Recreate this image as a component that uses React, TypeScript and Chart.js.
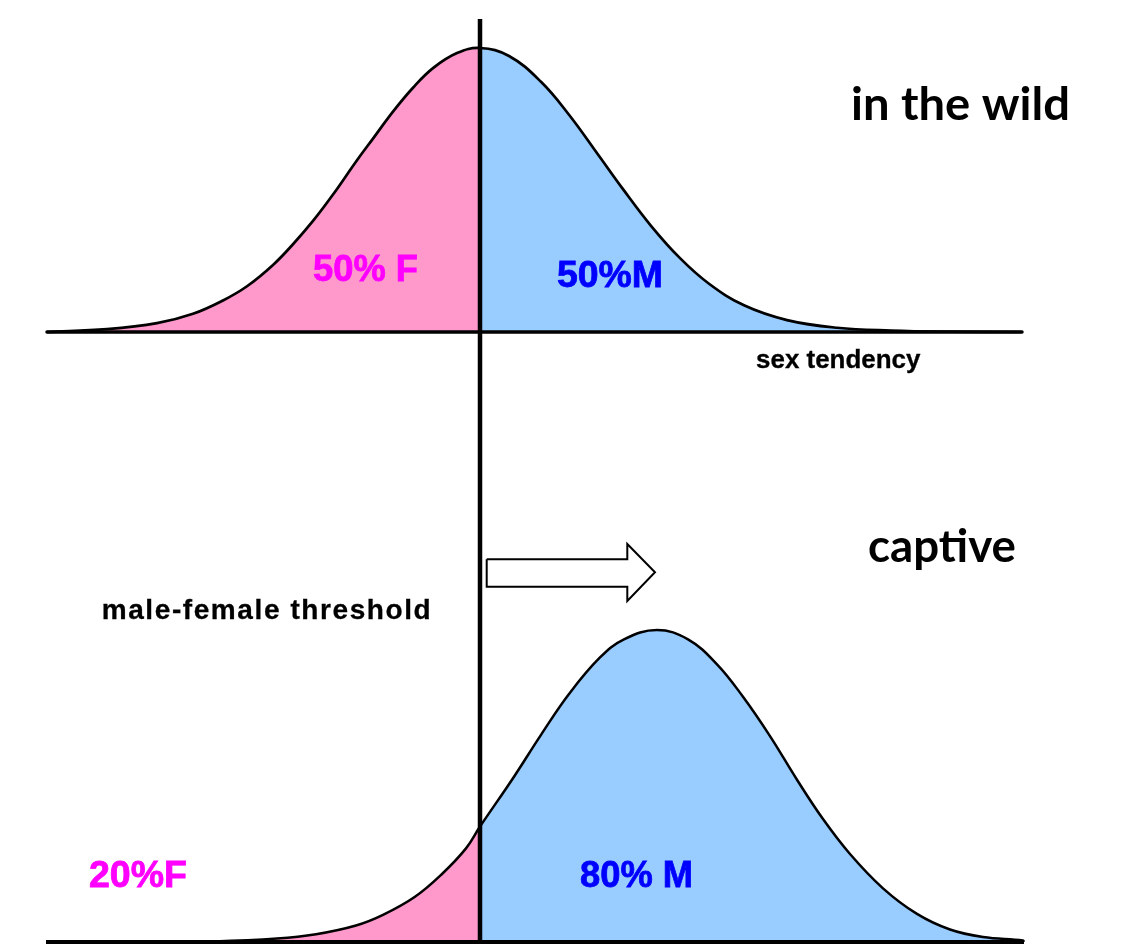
import React, { useEffect, useRef } from "react";
import { Chart, registerables } from "chart.js";

Chart.register(...registerables);

// sex tendency (threshold at 0) and relative frequency (peak = 1)
const wildX = [-4.33, -3.73, -3.23, -2.87, -2.57, -2.33, -2.07, -1.87, -1.67, -1.47, -1.23, -1.07, -0.87, -0.67, -0.47, -0.23, 0, 0.29, 0.61, 0.89, 1.18, 1.43, 1.71, 2.0, 2.29, 2.64, 3.07, 3.57, 4.11, 4.7, 5.41];
const wildY = [0.0, 0.01, 0.031, 0.064, 0.111, 0.161, 0.236, 0.309, 0.391, 0.484, 0.605, 0.681, 0.776, 0.86, 0.929, 0.982, 1.0, 0.972, 0.881, 0.765, 0.625, 0.503, 0.374, 0.26, 0.17, 0.094, 0.042, 0.015, 0.005, 0.001, 0.0];

const captiveX = [-4.34, -3.4, -2.66, -2.03, -1.64, -1.24, -0.97, -0.65, -0.38, -0.14, 0, 0.33, 0.61, 0.89, 1.2, 1.44, 1.77, 2.08, 2.37, 2.63, 2.9, 3.17, 3.43, 3.7, 4.03, 4.37, 4.7, 5.03, 5.43, 5.44];
const captiveY = [0, 0, 0.002, 0.011, 0.025, 0.053, 0.087, 0.145, 0.218, 0.3, 0.37, 0.525, 0.664, 0.795, 0.912, 0.97, 1.0, 0.97, 0.89, 0.786, 0.66, 0.52, 0.394, 0.282, 0.172, 0.09, 0.04, 0.016, 0.005, 0];

const thresholdValue = 0;
const thresholdTop = 2.958;

const wildBaseX = [-4.33, 5.42];
const captiveBaseX = [-4.34, 5.44];

const arrowX = [0.067, 1.473, 1.473, 1.75, 1.473, 1.473, 0.067, 0.067];
const arrowY = [1.2266, 1.2266, 1.2756, 1.185, 1.093, 1.139, 1.139, 1.2266];

const labelTexts = ["in the wild", "captive", "sex tendency", "male-female threshold", "50% F", "50%M", "20%F", "80% M"];
const labelColors = ["#000000", "#000000", "#000000", "#000000", "#FF00FF", "#0000FF", "#FF00FF", "#0000FF"];

// annotation placement (data units): left x, baseline y, axis, width (x units), font
const labelLayout = [
  { x: 3.71, y: 0.746, axis: "yWild", w: 2.19, size: 45, family: "Lato", spread: false, stroke: 0 },
  { x: 3.88, y: 1.218, axis: "yCaptive", w: 1.48, size: 45, family: "Lato", spread: false, stroke: 0 },
  { x: 2.76, y: -0.127, axis: "yWild", w: 1.645, size: 25, family: "'Liberation Sans'", spread: false, stroke: 0.3 },
  { x: -3.783, y: 1.035, axis: "yCaptive", w: 3.29, size: 28, family: "'Liberation Sans'", spread: true, stroke: 0.3 },
  { x: -1.67, y: 0.181, axis: "yWild", w: 1.05, size: 37, family: "'Liberation Sans'", spread: false, stroke: 0.8 },
  { x: 0.77, y: 0.158, axis: "yWild", w: 1.06, size: 37, family: "'Liberation Sans'", spread: false, stroke: 0.8 },
  { x: -3.91, y: 0.176, axis: "yCaptive", w: 0.98, size: 37, family: "'Liberation Sans'", spread: false, stroke: 0.8 },
  { x: 1.0, y: 0.177, axis: "yCaptive", w: 1.13, size: 37, family: "'Liberation Sans'", spread: false, stroke: 0.8 },
];

const PINK = "#FF99CC";
const BLUE = "#99CCFF";

const pts = (xs: number[], ys: number[]) => xs.map((x, i) => ({ x, y: ys[i] }));

const labelPlugin = {
  id: "labels",
  afterDraw(chart: any) {
    const ctx = chart.ctx;
    const xs = chart.scales.x;
    labelTexts.forEach((t, i) => {
      const l = labelLayout[i];
      const ys = chart.scales[l.axis];
      const px = xs.getPixelForValue(l.x);
      const py = ys.getPixelForValue(l.y);
      const targetW = xs.getPixelForValue(l.x + l.w) - px;
      ctx.save();
      ctx.font = `bold ${l.size}px ${l.family}`;
      ctx.fillStyle = labelColors[i];
      ctx.strokeStyle = labelColors[i];
      ctx.lineWidth = l.stroke;
      ctx.textAlign = "left";
      ctx.textBaseline = "alphabetic";
      if (l.spread) {
        // distribute glyphs with extra spacing to reach the target width
        const chars = Array.from(t);
        const widths = chars.map((c) => ctx.measureText(c).width);
        const natural = widths.reduce((a, b) => a + b, 0);
        const gap = (targetW - natural) / (chars.length - 1);
        let cx = px;
        chars.forEach((c, k) => {
          ctx.fillText(c, cx, py);
          if (l.stroke) ctx.strokeText(c, cx, py);
          cx += widths[k] + gap;
        });
      } else {
        const w = ctx.measureText(t).width;
        ctx.translate(px, py);
        ctx.scale(targetW / w, 1);
        ctx.fillText(t, 0, 0);
        if (l.stroke) ctx.strokeText(t, 0, 0);
      }
      ctx.restore();
    });
  },
};

export default function App() {
  const ref = useRef<HTMLCanvasElement | null>(null);
  useEffect(() => {
    if (!ref.current) return;
    const wild = pts(wildX, wildY);
    const captive = pts(captiveX, captiveY);
    const fillBase = {
      borderWidth: 0,
      borderColor: "rgba(0,0,0,0)",
      fill: "origin",
      tension: 0.4,
      pointRadius: 0,
      order: 10,
    };
    const chart = new Chart(ref.current, {
      type: "line",
      data: {
        datasets: [
          { ...fillBase, data: wild.filter((p) => p.x <= thresholdValue), backgroundColor: PINK, yAxisID: "yWild" },
          { ...fillBase, data: wild.filter((p) => p.x >= thresholdValue), backgroundColor: BLUE, yAxisID: "yWild" },
          { ...fillBase, data: captive.filter((p) => p.x <= thresholdValue), backgroundColor: PINK, yAxisID: "yCaptive" },
          { ...fillBase, data: captive.filter((p) => p.x >= thresholdValue), backgroundColor: BLUE, yAxisID: "yCaptive" },
          {
            data: wild, yAxisID: "yWild", borderColor: "#000", borderWidth: 2.7, fill: false,
            tension: 0.4, pointRadius: 0, order: 5,
          },
          {
            data: captive, yAxisID: "yCaptive", borderColor: "#000", borderWidth: 2.5, fill: false,
            tension: 0.4, pointRadius: 0, order: 5,
          },
          {
            data: wildBaseX.map((x) => ({ x, y: 0 })), yAxisID: "yWild", borderColor: "#000", borderWidth: 3.5,
            borderCapStyle: "round", fill: false, tension: 0, pointRadius: 0, order: 4,
          },
          {
            data: captiveBaseX.map((x) => ({ x, y: 0 })), yAxisID: "yCaptive", borderColor: "#000", borderWidth: 4,
            fill: false, tension: 0, pointRadius: 0, order: 4,
          },
          {
            data: [{ x: thresholdValue, y: thresholdTop }, { x: thresholdValue, y: 0 }], yAxisID: "yCaptive",
            borderColor: "#000", borderWidth: 4.5, fill: false, tension: 0, pointRadius: 0, order: 3,
          },
          {
            data: pts(arrowX, arrowY), yAxisID: "yCaptive", borderColor: "#000", borderWidth: 2,
            borderJoinStyle: "miter", fill: false, tension: 0, pointRadius: 0, order: 2,
          },
        ],
      },
      options: {
        animation: false,
        responsive: false,
        devicePixelRatio: 1,
        events: [],
        layout: { padding: 0 },
        plugins: { legend: { display: false }, tooltip: { enabled: false }, title: { display: false } },
        scales: {
          x: { type: "linear", min: -4.8, max: 6.45, display: false },
          yWild: { type: "linear", min: -2.1831, max: 1.169, display: false },
          yCaptive: { type: "linear", min: -0.03205, max: 3.0192, display: false },
        },
      },
      plugins: [labelPlugin],
    } as any);
    return () => chart.destroy();
  }, []);
  return (
    <div style={{ position: "absolute", left: 0, top: 0, width: 1125, height: 952, background: "#fff" }}>
      <canvas ref={ref} width={1125} height={952} style={{ display: "block", width: 1125, height: 952 }} />
    </div>
  );
}
